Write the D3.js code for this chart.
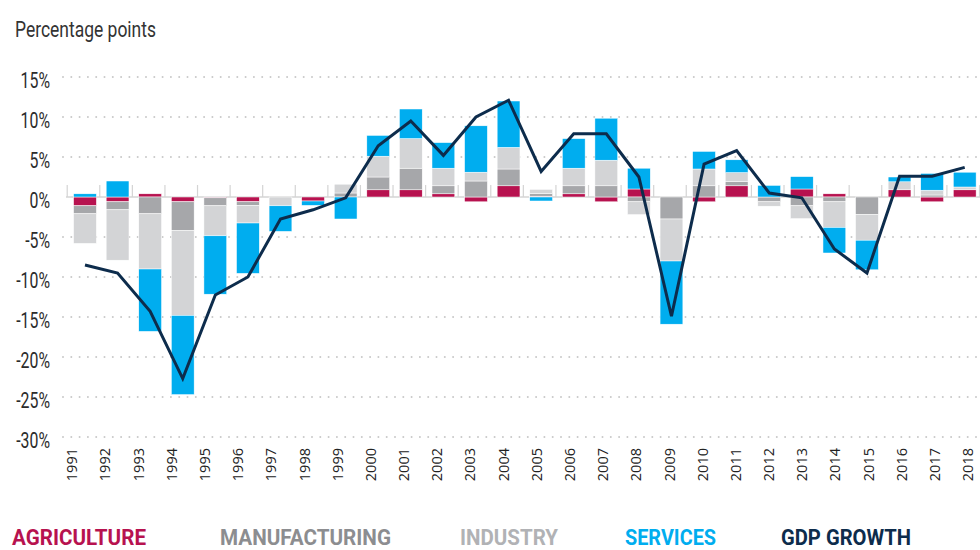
<!DOCTYPE html>
<html>
<head>
<meta charset="utf-8">
<script src="https://cdn.jsdelivr.net/npm/d3@7"></script>
<style>
  body { margin: 0; background: #fff; }
  svg { display: block; }
  .cond { font-family: Roboto, "Liberation Sans", sans-serif; }
</style>
</head>
<body>
<div id="chart"></div>
<script>
var svgWidth = 980;
var svgHeight = 550;

// data (percentage points)
var years = ["1991", "1992", "1993", "1994", "1995", "1996", "1997", "1998", "1999", "2000",
  "2001", "2002", "2003", "2004", "2005", "2006", "2007", "2008", "2009", "2010",
  "2011", "2012", "2013", "2014", "2015", "2016", "2017", "2018"];

var agriculture = [-1.1, -0.6, 0.4, -0.6, -0.1, -0.6, 0, -0.5, 0, 0.9,
  0.9, 0.4, -0.6, 1.4, 0.1, 0.4, -0.6, 1.0, 0, -0.6,
  1.4, 0, 1.0, 0.4, 0, 0.9, -0.6, 0.9];

var manufacturing = [-1.0, -1.0, -2.1, -3.6, -1.0, -0.45, 0, 0, 0.5, 1.6,
  2.7, 1.0, 2.0, 2.1, 0.35, 1.0, 1.4, -0.6, -2.75, 1.4,
  0.55, -0.6, -1.1, -0.6, -2.2, 0, 0.25, 0];

var industry = [-3.7, -6.3, -6.9, -10.6, -3.75, -2.2, -1.1, 0, 1.1, 2.6,
  3.7, 2.2, 1.1, 2.7, 0.5, 2.2, 3.2, -1.6, -5.25, 2.1,
  1.1, -0.55, -1.6, -3.2, -3.2, 1.0, 0.6, 0.35];

var services = [0.4, 2.0, -7.8, -9.9, -7.3, -6.3, -3.2, -0.55, -2.75, 2.6,
  3.7, 3.2, 5.8, 5.8, -0.5, 3.7, 5.25, 2.6, -7.9, 2.2,
  1.6, 1.45, 1.55, -3.2, -3.7, 0.6, 2.1, 1.85];

var gdpGrowth = [-8.5, -9.5, -14.3, -22.7, -12.25, -10.0, -2.75, -1.6, -0.1, 6.4,
  9.5, 5.2, 10.0, 12.1, 3.2, 7.9, 7.9, 2.5, -14.9, 4.1,
  5.8, 0.5, -0.1, -6.5, -9.5, 2.6, 2.6, 3.7];

var yTicks = [15, 10, 5, 0, -5, -10, -15, -20, -25, -30];

var seriesKeys = ["agriculture", "manufacturing", "industry", "services"];
var legendLabels = ["AGRICULTURE", "MANUFACTURING", "INDUSTRY", "SERVICES", "GDP GROWTH"];

var barColors = {
  agriculture: "#b7124f",
  manufacturing: "#a6a7aa",
  industry: "#d3d4d6",
  services: "#00adef"
};
var lineColor = "#0d2c4c";
var legendColors = ["#b7124f", "#8c8d90", "#b1b2b5", "#00adef", "#0d2c4c"];

// build rows for d3.stack
var rows = years.map(function (yr, i) {
  return {
    year: yr,
    agriculture: agriculture[i],
    manufacturing: manufacturing[i],
    industry: industry[i],
    services: services[i],
    gdp: gdpGrowth[i]
  };
});

var svg = d3
  .select("#chart")
  .append("svg")
  .attr("width", svgWidth)
  .attr("height", svgHeight);

// scales
var xBand = d3.scaleBand()
  .domain(years)
  .range([68.7, 981])
  .paddingInner(0.3)
  .paddingOuter(0.15);

// year labels sit on a slightly different spread than the bars
var xLabel = d3.scalePoint()
  .domain(years)
  .range([71.5, 967.5]);

var yLinearScale = d3.scaleLinear()
  .domain([-30, 15])
  .range([437, 77]);

// title
svg.append("text")
  .attr("class", "cond")
  .attr("x", 15)
  .attr("y", 37)
  .attr("textLength", 141)
  .attr("lengthAdjust", "spacingAndGlyphs")
  .style("font-size", "22px")
  .attr("fill", "#333")
  .text("Percentage points");

// dotted gridlines
svg.append("g")
  .selectAll("line")
  .data(yTicks.filter(function (d) { return d !== 0; }))
  .enter()
  .append("line")
  .attr("x1", 63)
  .attr("x2", 980)
  .attr("y1", function (d) { return yLinearScale(d); })
  .attr("y2", function (d) { return yLinearScale(d); })
  .attr("stroke", "#c9c9c9")
  .attr("stroke-width", 2)
  .attr("stroke-linecap", "round")
  .attr("stroke-dasharray", "0,8.3");

// y labels, squeezed horizontally to look condensed
svg.append("g")
  .selectAll("g")
  .data(yTicks)
  .enter()
  .append("g")
  .attr("transform", function (d) { return "translate(50," + (yLinearScale(d) + 10.5) + ")"; })
  .append("text")
  .attr("class", "cond")
  .attr("transform", "scale(0.72,1)")
  .attr("text-anchor", "end")
  .style("font-size", "22px")
  .attr("fill", "#2b2b2b")
  .text(function (d) { return d + "%"; });

// zero line and band separator ticks
svg.append("line")
  .attr("x1", 66)
  .attr("x2", 981)
  .attr("y1", yLinearScale(0))
  .attr("y2", yLinearScale(0))
  .attr("stroke", "#d4d4d4")
  .attr("stroke-width", 1.5);

svg.append("g")
  .selectAll("line")
  .data(d3.range(years.length + 1))
  .enter()
  .append("line")
  .attr("x1", function (i) { return xBand.range()[0] + i * xBand.step() - 1.5; })
  .attr("x2", function (i) { return xBand.range()[0] + i * xBand.step() - 1.5; })
  .attr("y1", yLinearScale(0) - 12)
  .attr("y2", yLinearScale(0))
  .attr("stroke", "#d4d4d4")
  .attr("stroke-width", 1.2);

// stacked bars
var stacked = d3.stack()
  .keys(seriesKeys)
  .offset(d3.stackOffsetDiverging)(rows);

var barsGroup = svg.append("g");

barsGroup.selectAll("g")
  .data(stacked)
  .enter()
  .append("g")
  .attr("fill", function (d) { return barColors[d.key]; })
  .selectAll("rect")
  .data(function (d) { return d; })
  .enter()
  .append("rect")
  .attr("x", function (d) { return xBand(d.data.year); })
  .attr("width", xBand.bandwidth())
  .attr("y", function (d) { return yLinearScale(Math.max(d[0], d[1])); })
  .attr("height", function (d) { return Math.abs(yLinearScale(d[0]) - yLinearScale(d[1])); })
  .attr("stroke", "#fff")
  .attr("stroke-width", 0.5);

// GDP growth line
var gdpLine = d3.line()
  .x(function (d) { return xBand(d.year) + xBand.bandwidth() / 2; })
  .y(function (d) { return yLinearScale(d.gdp); });

svg.append("path")
  .datum(rows)
  .attr("d", gdpLine)
  .attr("fill", "none")
  .attr("stroke", lineColor)
  .attr("stroke-width", 3)
  .attr("stroke-linejoin", "miter");

// year labels (rotated)
var xAxis = svg.append("g")
  .attr("transform", "translate(0, 448)")
  .call(d3.axisBottom(xLabel).tickSize(0).tickPadding(0));

xAxis.select(".domain").remove();
xAxis.selectAll("text")
  .attr("transform", "rotate(-90)")
  .attr("x", 0)
  .attr("y", 0)
  .attr("dy", "0.36em")
  .attr("text-anchor", "end")
  .style("font-family", "'Open Sans', 'Liberation Sans', sans-serif")
  .style("font-size", "14.5px")
  .attr("fill", "#222");

// legend
var legendX = [12, 220, 460, 625, 781];
var legendW = [134, 171, 98, 91, 130];

svg.append("g")
  .selectAll("text")
  .data(legendLabels)
  .enter()
  .append("text")
  .attr("class", "cond")
  .attr("x", function (d, i) { return legendX[i]; })
  .attr("y", 545)
  .attr("textLength", function (d, i) { return legendW[i]; })
  .attr("lengthAdjust", "spacingAndGlyphs")
  .style("font-size", "22px")
  .style("font-weight", "bold")
  .attr("fill", function (d, i) { return legendColors[i]; })
  .text(function (d) { return d; });
</script>
</body>
</html>
